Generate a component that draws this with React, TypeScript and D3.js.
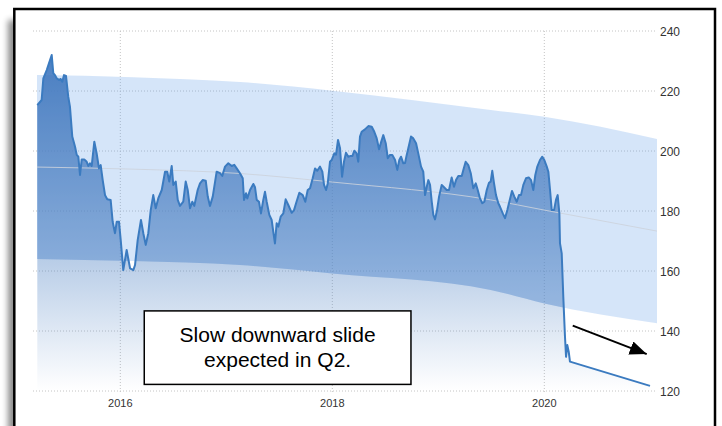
import * as d3 from "d3";

// decimal year, price
const priceSeries: [number, number][] = [
  [2015.217, 215.3], [2015.258, 217.0], [2015.274, 224.2], [2015.306, 227.0], [2015.327, 229.2],
  [2015.353, 232.0], [2015.368, 225.9], [2015.384, 225.3], [2015.4, 224.2], [2015.422, 223.7],
  [2015.438, 224.0], [2015.453, 223.1], [2015.469, 225.3], [2015.488, 225.0], [2015.509, 218.1],
  [2015.525, 214.8], [2015.547, 204.8], [2015.573, 201.4], [2015.589, 198.7], [2015.604, 198.1],
  [2015.62, 192.0], [2015.636, 197.2], [2015.66, 197.2], [2015.683, 196.4], [2015.698, 195.0],
  [2015.714, 195.9], [2015.73, 195.0], [2015.755, 203.1], [2015.777, 199.2], [2015.799, 194.2],
  [2015.815, 195.3], [2015.834, 190.3], [2015.856, 185.3], [2015.877, 183.9], [2015.909, 183.7],
  [2015.928, 176.4], [2015.95, 172.6], [2015.966, 176.4], [2015.988, 176.4], [2016.004, 170.3],
  [2016.028, 160.3], [2016.06, 167.0], [2016.092, 160.9], [2016.123, 160.3], [2016.139, 162.0],
  [2016.164, 170.3], [2016.195, 177.0], [2016.217, 172.6], [2016.24, 168.7], [2016.264, 172.6],
  [2016.287, 180.3], [2016.311, 185.3], [2016.334, 180.9], [2016.358, 184.2], [2016.391, 187.0],
  [2016.422, 193.1], [2016.443, 193.1], [2016.462, 189.8], [2016.485, 195.0], [2016.5, 188.7],
  [2016.523, 189.8], [2016.542, 183.7], [2016.563, 181.7], [2016.594, 183.1], [2016.617, 189.8],
  [2016.636, 187.0], [2016.658, 180.9], [2016.679, 183.1], [2016.698, 181.7], [2016.73, 187.0],
  [2016.752, 189.2], [2016.777, 190.3], [2016.806, 190.1], [2016.825, 184.8], [2016.846, 181.7],
  [2016.872, 184.8], [2016.909, 193.1], [2016.941, 192.6], [2016.962, 191.7], [2016.988, 194.8],
  [2017.019, 195.9], [2017.051, 195.0], [2017.075, 195.4], [2017.098, 194.2], [2017.129, 192.6],
  [2017.155, 190.9], [2017.167, 183.7], [2017.186, 185.9], [2017.198, 184.2], [2017.224, 187.0],
  [2017.255, 189.0], [2017.271, 187.9], [2017.287, 183.7], [2017.308, 183.1], [2017.327, 179.2],
  [2017.349, 183.7], [2017.365, 186.4], [2017.381, 183.1], [2017.406, 178.7], [2017.428, 177.0],
  [2017.443, 173.1], [2017.459, 169.2], [2017.475, 175.9], [2017.491, 174.8], [2017.513, 178.1],
  [2017.538, 179.2], [2017.56, 183.9], [2017.585, 182.0], [2017.617, 179.4], [2017.639, 180.3],
  [2017.658, 182.6], [2017.689, 186.1], [2017.721, 185.3], [2017.745, 183.1], [2017.768, 187.0],
  [2017.79, 187.6], [2017.815, 190.9], [2017.837, 194.2], [2017.858, 193.4], [2017.884, 194.8],
  [2017.906, 193.1], [2017.922, 188.7], [2017.941, 187.0], [2017.957, 189.2], [2017.978, 196.4],
  [2017.994, 197.0], [2018.019, 199.2], [2018.035, 198.8], [2018.054, 203.7], [2018.073, 200.9],
  [2018.092, 191.4], [2018.11, 196.4], [2018.129, 199.4], [2018.151, 198.1], [2018.167, 198.3],
  [2018.189, 198.3], [2018.208, 200.1], [2018.23, 199.2], [2018.245, 196.4], [2018.261, 204.8],
  [2018.277, 206.4], [2018.308, 207.2], [2018.34, 208.3], [2018.372, 208.1], [2018.396, 206.4],
  [2018.419, 204.2], [2018.441, 200.6], [2018.459, 202.8], [2018.481, 205.3], [2018.504, 202.6],
  [2018.523, 197.6], [2018.544, 198.7], [2018.566, 198.7], [2018.592, 197.0], [2018.613, 193.7],
  [2018.632, 197.0], [2018.648, 198.1], [2018.67, 195.9], [2018.686, 196.0], [2018.702, 198.7],
  [2018.717, 200.9], [2018.742, 204.8], [2018.764, 204.2], [2018.79, 202.6], [2018.811, 199.2],
  [2018.837, 194.8], [2018.858, 193.1], [2018.875, 185.3], [2018.891, 188.1], [2018.906, 190.3],
  [2018.922, 188.7], [2018.938, 183.1], [2018.953, 178.7], [2018.969, 177.2], [2018.988, 180.3],
  [2019.007, 184.8], [2019.032, 188.7], [2019.054, 187.9], [2019.079, 187.0], [2019.101, 187.0],
  [2019.126, 191.2], [2019.148, 188.1], [2019.167, 190.3], [2019.189, 191.7], [2019.221, 191.7],
  [2019.236, 193.7], [2019.258, 196.4], [2019.283, 195.3], [2019.306, 192.6], [2019.33, 187.6],
  [2019.353, 189.2], [2019.372, 187.0], [2019.393, 184.2], [2019.415, 182.6], [2019.434, 183.1],
  [2019.457, 187.0], [2019.478, 189.4], [2019.494, 189.8], [2019.509, 193.4], [2019.525, 189.4],
  [2019.544, 185.3], [2019.566, 182.6], [2019.582, 181.4], [2019.608, 179.2], [2019.629, 177.6],
  [2019.651, 180.3], [2019.67, 183.1], [2019.695, 186.7], [2019.717, 184.8], [2019.74, 183.1],
  [2019.761, 185.3], [2019.78, 185.3], [2019.802, 188.7], [2019.827, 190.9], [2019.853, 191.2],
  [2019.875, 190.3], [2019.896, 187.0], [2019.915, 192.0], [2019.934, 194.8], [2019.959, 197.0],
  [2019.981, 198.1], [2020.0, 197.0], [2020.023, 194.8], [2020.038, 193.1], [2020.054, 187.0],
  [2020.07, 180.3], [2020.092, 180.3], [2020.11, 183.7], [2020.126, 185.3], [2020.142, 179.2],
  [2020.148, 169.2], [2020.164, 165.9], [2020.179, 151.4], [2020.195, 138.1], [2020.205, 131.4],
  [2020.217, 135.3], [2020.23, 133.1], [2020.242, 129.8],
  // forecast
  [2020.997, 121.7],
];

// trend channel
const bandYears = [2015.214, 2016.12, 2017.129, 2018.0, 2019.494, 2020.0, 2021.063];
const bandUpper = [225.3, 224.6, 223.0, 220.1, 213.7, 211.4, 204.0];
const bandLower = [164.0, 163.3, 162.0, 159.2, 153.7, 149.2, 142.6];

const yTicks = [120, 140, 160, 180, 200, 220, 240];
const xTicks = [2016, 2018, 2020];

const noteLines = ["Slow downward slide", "expected in Q2."];
const noteBox = { x0: 2016.226, x1: 2018.742, y0: 146.7, y1: 122.2 };
const arrow = { x0: 2020.268, y0: 141.8, x1: 2020.966, y1: 132.3 };

const W = 722;
const H = 426;

export default function App() {
  const x = d3.scaleLinear().domain([2015.2142, 2021.063]).range([37, 657]);
  const y = d3.scaleLinear().domain([120, 240]).range([391, 31]);

  const line = d3.line<[number, number]>()
    .x(d => x(d[0]))
    .y(d => y(d[1]));

  const area = d3.area<[number, number]>()
    .x(d => x(d[0]))
    .y0(y(120))
    .y1(d => y(d[1]));

  const bandIdx = d3.range(bandYears.length);
  const band = d3.area<number>()
    .x(i => x(bandYears[i]))
    .y0(i => y(bandLower[i]))
    .y1(i => y(bandUpper[i]))
    .curve(d3.curveMonotoneX);
  const mid = d3.line<number>()
    .x(i => x(bandYears[i]))
    .y(i => y((bandUpper[i] + bandLower[i]) / 2))
    .curve(d3.curveMonotoneX);

  const top = y(d3.max(priceSeries, d => d[1])!);
  const font = "'Liberation Sans', Arial, sans-serif";

  return (
    <svg width={W} height={H} style={{ position: "absolute", left: 0, top: 0 }}>
      <defs>
        <linearGradient id="areaGrad" gradientUnits="userSpaceOnUse" x1="0" x2="0" y1={top} y2={y(120)}>
          <stop offset="0" stopColor="#4a7fc2" stopOpacity={1} />
          <stop offset="1" stopColor="#4a7fc2" stopOpacity={0} />
        </linearGradient>
        <clipPath id="bandClip">
          <path d={band(bandIdx)!} />
        </clipPath>
        <filter id="shadow" x="-10%" y="-10%" width="120%" height="120%">
          <feGaussianBlur stdDeviation="3" />
        </filter>
        <marker id="head" markerUnits="userSpaceOnUse" markerWidth="18" markerHeight="16"
          refX="17" refY="7" orient="auto">
          <path d="M0,0 L17,7 L0,14 Z" fill="#000" />
        </marker>
      </defs>

      {/* frame */}
      <rect x={8} y={20} width={700} height={420} fill="#000" opacity={0.45} filter="url(#shadow)" />
      <rect x={14.3} y={9} width={700.7} height={430} fill="#fff" stroke="#000" strokeWidth={2.5} />

      {/* grid */}
      {yTicks.map(t => (
        <line key={"gy" + t} x1={33} x2={657} y1={y(t)} y2={y(t)}
          stroke="#c4c4c4" strokeDasharray="1,2" />
      ))}
      {xTicks.map(t => (
        <line key={"gx" + t} x1={x(t)} x2={x(t)} y1={y(240)} y2={y(120) + 2}
          stroke="#c4c4c4" strokeDasharray="1,2" />
      ))}

      {/* channel + series */}
      <path d={band(bandIdx)!} fill="rgba(91,155,230,0.26)" />
      <path d={area(priceSeries)!} fill="url(#areaGrad)" />
      <path d={area(priceSeries)!} fill="rgba(74,127,194,0.27)" clipPath="url(#bandClip)" />
      <path d={mid(bandIdx)!} fill="none" stroke="rgba(205,210,220,0.85)" strokeWidth={1} />
      <path d={line(priceSeries)!} fill="none" stroke="#3b7bc0" strokeWidth={2} strokeLinejoin="round" />

      {/* axes labels */}
      {yTicks.map(t => (
        <text key={"ty" + t} x={660} y={y(t)} dy="0.38em" fontSize={12} fill="#333"
          fontFamily={font}>{t}</text>
      ))}
      {xTicks.map(t => (
        <text key={"tx" + t} x={x(t)} y={407} textAnchor="middle" fontSize={11} fill="#333"
          fontFamily={font}>{t}</text>
      ))}

      {/* annotation */}
      <rect x={x(noteBox.x0)} y={y(noteBox.y0)} width={x(noteBox.x1) - x(noteBox.x0)}
        height={y(noteBox.y1) - y(noteBox.y0)} fill="#fff" stroke="#000" strokeWidth={1.5} />
      {noteLines.map((s, i) => (
        <text key={s} x={(x(noteBox.x0) + x(noteBox.x1)) / 2} y={y(noteBox.y0) + 31 + i * 25}
          textAnchor="middle" fontSize={21} fill="#000" fontFamily={font}>{s}</text>
      ))}
      <line x1={x(arrow.x0)} y1={y(arrow.y0)} x2={x(arrow.x1)} y2={y(arrow.y1)}
        stroke="#000" strokeWidth={2} markerEnd="url(#head)" />
    </svg>
  );
}
